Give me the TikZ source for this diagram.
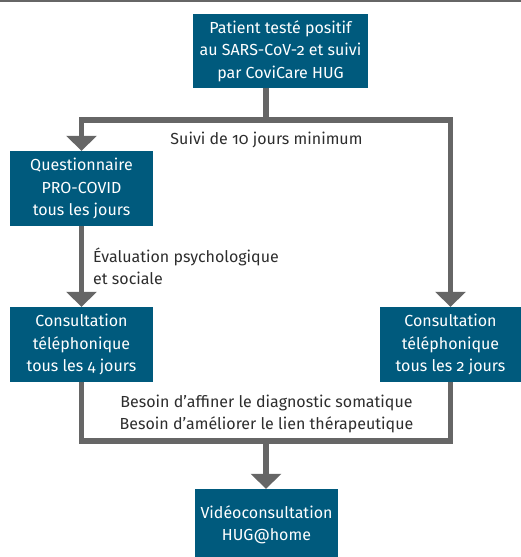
\documentclass[tikz,border=0pt]{standalone}
\usepackage{fontspec}
\setmainfont[Numbers=OldStyle]{Fira Sans}
\usetikzlibrary{arrows.meta}
\definecolor{boxblue}{RGB}{0,90,125}
\definecolor{linegray}{RGB}{102,102,102}
\definecolor{textgray}{RGB}{45,45,45}
\tikzset{
  stepbox/.style={fill=boxblue, text=white, draw=none, inner sep=0pt, align=center,
    font=\fontsize{16}{22.3}\selectfont},
  lbl/.style={text=textgray, inner sep=0pt, font=\fontsize{16}{22.3}\selectfont},
  conn/.style={draw=linegray, line width=5.5pt, line join=miter},
  tip/.style={-{Triangle[width=30pt,length=15pt]}, conn},
}
\begin{document}
\begin{tikzpicture}[x=1pt,y=-1pt]
\useasboundingbox (0,0) rectangle (521,557);
\draw[draw=linegray, line width=1.5pt] (0,0.75) -- (521,0.75);
\node[stepbox, minimum width=175pt, minimum height=74pt] (top) at (280.5,51) {Patient testé positif\\au SARS-CoV-2 et suivi\\par CoviCare HUG};
\node[stepbox, minimum width=143pt, minimum height=75pt] (q) at (81.5,188.5) {Questionnaire\\PRO-COVID\\tous les jours};
\node[stepbox, minimum width=143pt, minimum height=75pt] (c1) at (81.5,344.5) {Consultation\\téléphonique\\tous les 4 jours};
\node[stepbox, minimum width=141pt, minimum height=75pt] (c2) at (450.5,344.5) {Consultation\\téléphonique\\tous les 2 jours};
\node[stepbox, minimum width=143pt, minimum height=72pt, text depth=0pt] (v) at (266.5,525) {};
\node[stepbox, fill=none] (vt) at (266.5,525) {Vidéoconsultation\\HUG@home};

\coordinate (j1) at (266,120);
\coordinate (j2) at (266,441);

\draw[conn] (top.south -| j1) -- (j1);
\draw[tip, {Triangle[width=30pt,length=15pt]}-{Triangle[width=30pt,length=15pt]}] (q.north) -- (q.north |- j1) -- (c2.north |- j1) -- (c2.north);
\draw[tip] (q.south) -- (c1.north);
\draw[conn] (c1.south) -- (c1.south |- j2) -- (c2.south |- j2) -- (c2.south);
\draw[tip] (j2) -- (v.north -| j2);

\node[lbl] (l1) at (266.5,140) {Suivi de 10 jours minimum};
\node[lbl, anchor=west, align=left] (l2) at (93,266) {Évaluation psychologique\\et sociale};
\node[lbl, align=center] (l3) at (266.5,414) {Besoin d’affiner le diagnostic somatique\\Besoin d’améliorer le lien thérapeutique};
\end{tikzpicture}
\end{document}
